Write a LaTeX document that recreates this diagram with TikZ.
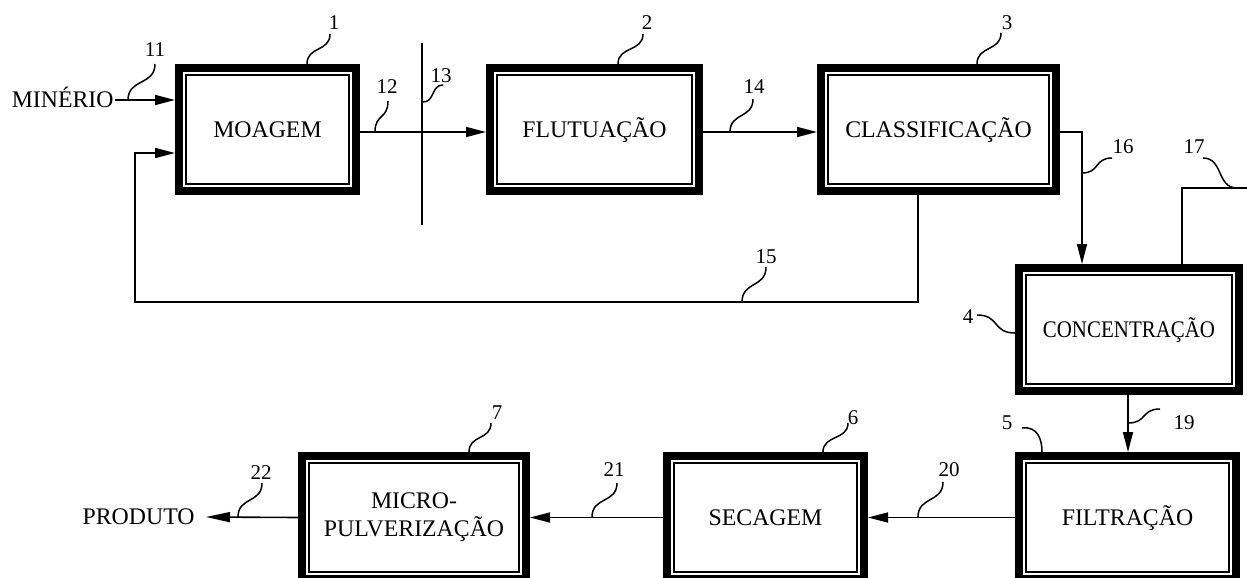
\documentclass[tikz,border=0pt]{standalone}
\usepackage{fontspec}
\setmainfont{Liberation Serif}
\usepackage{graphicx}
\usetikzlibrary{arrows.meta,calc}
\tikzset{
  blk/.style={draw, line width=3.85pt, outer sep=1.925pt, inner sep=0pt,
    minimum height=61.65pt, font=\fontsize{11.9}{13.5}\selectfont},
  one/.style={text height=7.9pt, text depth=0pt},
  conn/.style={line width=0.8pt},
  arr/.style={conn, -{Triangle[length=10pt,width=5pt]}},
  ld/.style={line width=0.75pt},
  num/.style={font=\fontsize{10.5}{12}\selectfont, inner sep=0pt},
  txt/.style={font=\fontsize{11.9}{13.5}\selectfont, inner sep=0pt, text height=7.9pt, text depth=0pt},
}
\newcommand{\ldv}[4]{\draw[ld] (#1,#2) .. controls (#1,{#2+(#4-#2)*0.6}) and (#3,{#4-(#4-#2)*0.6}) .. (#3,#4);}
\newcommand{\ldh}[4]{\draw[ld] (#1,#2) .. controls ({#1+(#3-#1)*0.6},#2) and ({#3-(#3-#1)*0.6},#4) .. (#3,#4);}
\begin{document}
\begin{tikzpicture}[x=0.5pt,y=-0.5pt]
\useasboundingbox (0,0) rectangle (1247,578);
\clip (0,0) rectangle (1247,578);
\fill[white] (0,0) rectangle (1247,578);

% boxes
\node[blk,one,minimum width=88.65pt] (b1) at (267.5,129.5) {MOAGEM};
\node[blk,one,minimum width=104.65pt] (b2) at (594.5,129.5) {FLUTUAÇÃO};
\node[blk,one,minimum width=117.65pt] (b3) at (938.5,129.5) {CLASSIFICAÇÃO};
\node[blk,one,minimum width=110.15pt] (b4) at (1129,329.5) {\scalebox{0.88}[1]{CONCENTRAÇÃO}};
\node[blk,one,minimum width=108.65pt] (b5) at (1127.5,517.5) {FILTRAÇÃO};
\node[blk,one,minimum width=98.65pt] (b6) at (765.5,517.5) {SECAGEM};
\node[blk,minimum width=112.15pt] (b7) at (414,517.5) {\begin{tabular}{@{}c@{}}MICRO-\\PULVERIZAÇÃO\end{tabular}};
\foreach \n in {b1,b2,b3,b4,b5,b6,b7}
  \draw[line width=0.6pt] ([shift={(5.5pt,-5.5pt)}]\n.north west) rectangle ([shift={(-5.5pt,5.5pt)}]\n.south east);

% end texts
\node[txt,anchor=east,inner xsep=0.5pt] (min) at (115,100) {MINÉRIO};
\node[txt,anchor=east,inner xsep=5.5pt] (prod) at (206,517) {PRODUTO};

% connectors
\draw[arr] (min.east) -- (b1.west |- min.east);
\draw[arr] ([yshift=-1.25pt]b1.east) -- ([yshift=-1.25pt]b2.west);
\draw[arr] ([yshift=-1.25pt]b2.east) -- ([yshift=-1.25pt]b3.west);
\coordinate (c16) at (1082,132);
\draw[arr] ([yshift=-1.25pt]b3.east) -- (c16) -- (b4.north -| c16);
\coordinate (c15a) at (918,302);
\coordinate (c15b) at (135,302);
\coordinate (c15c) at (135,153);
\draw[arr] (b3.south -| c15a) -- (c15a) -- (c15b) -- (c15c) -- (b1.west |- c15c);
\coordinate (c17a) at (1182,188);
\coordinate (c17b) at (1250,188);
\draw[conn] (b4.north -| c17a) -- (c17a) -- (c17b);
\coordinate (c19) at (1128,420);
\draw[arr] (b4.south -| c19) -- (b5.north -| c19);
\draw[arr] (b5.west) -- (b6.east);
\draw[arr] (b6.west) -- (b7.east);
\draw[conn,-{Triangle[length=12pt,width=5pt]}] (b7.west) -- (prod.east);
\coordinate (t13a) at (422,43);
\coordinate (t13b) at (422,225);
\draw[conn] (t13a) -- (t13b);

% leaders
\ldv{128}{100}{155}{64}
\ldv{307}{64}{330}{34}
\ldv{375}{132}{388}{101}
\ldh{423}{102}{443}{85}
\ldv{618}{64}{643}{34}
\ldv{730}{132}{753}{99}
\ldv{977}{64}{1001}{33}
\ldh{1082}{173}{1112}{158}
\ldh{1203}{158}{1237}{188}
\ldv{742}{302}{766}{267}
\ldh{977}{315}{1015}{333}
\ldh{1128}{423}{1160}{409}
\draw[ld] (1022,428) .. controls (1038,426) and (1042,440) .. (1042,452);
\ldv{823}{452}{848}{423}
\ldv{469}{452}{491}{423}
\ldv{918}{517}{943}{482}
\ldv{592}{517}{617}{483}
\ldv{238}{517}{262}{483}

% number labels
\node[num] (n11) at (155,50) {11};
\node[num] (n1) at (334,23) {1};
\node[num] (n12) at (387,87) {12};
\node[num] (n13) at (441,76) {13};
\node[num] (n2) at (647,23) {2};
\node[num] (n14) at (754,87) {14};
\node[num] (n3) at (1007,23) {3};
\node[num] (n16) at (1123,147) {16};
\node[num] (n17) at (1194,147) {17};
\node[num] (n15) at (766,257) {15};
\node[num] (n4) at (968,317) {4};
\node[num] (n19) at (1184,423) {19};
\node[num] (n5) at (1007,423) {5};
\node[num] (n6) at (853,418) {6};
\node[num] (n7) at (497,413) {7};
\node[num] (n20) at (949,470) {20};
\node[num] (n21) at (614,470) {21};
\node[num] (n22) at (261,473) {22};
\end{tikzpicture}
\end{document}
